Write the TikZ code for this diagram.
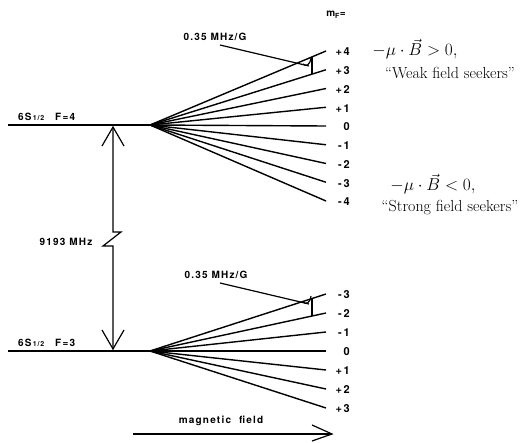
\documentclass[tikz,border=0pt]{standalone}
\usepackage{fontspec}
\newfontfamily\lab[LetterSpace=12]{TeX Gyre Heros}
\newfontfamily\mlabfont[LetterSpace=14]{TeX Gyre Heros}
\usetikzlibrary{calc}
\begin{document}
\begin{tikzpicture}[x=1pt,y=-1pt,
  level/.style={line width=1.5pt},
  fanline/.style={line width=1.4pt},
  vline/.style={line width=1.2pt},
  leader/.style={line width=1.2pt},
  mlab/.style={font=\mlabfont\bfseries\fontsize{11}{12}\selectfont, anchor=east, inner sep=0pt},
  slab/.style={font=\lab\bfseries\fontsize{10}{11}\selectfont, inner sep=0pt},
  rtext/.style={font=\fontsize{16}{18}\selectfont, inner sep=0pt}]
\useasboundingbox (0,0) rectangle (525,442);
% ---------- upper level F=4
\coordinate (L1) at (8,125);
\coordinate (O1) at (150,125);
\draw[level] (L1) -- (O1);
\foreach \i/\t in {0/+4,1/+3,2/+2,3/+1,4/0,5/{-\,1},6/{-\,2},7/{-\,3},8/{-\,4}} {
  \coordinate (ue\i) at (326,{51+18.75*\i});
  \node[mlab] (ul\i) at (350,{52+18.75*\i}) {\t};
  \draw[fanline] (O1) -- (ue\i);
}
\node[font=\lab\bfseries\fontsize{10}{10}\selectfont, inner sep=0pt] (mF) at (336,15) {m\textsubscript{F}=};
\node[slab, anchor=west] (s1) at (18,117) {6S{\fontsize{7}{7}\selectfont\,1/2}\hspace{1.1em}F=4};
\node[slab] (g1) at (215,37) {0.35 MHz/G};
\coordinate (l1s) at (220,45);
\coordinate (l1e) at (309,66);
\draw[leader] (l1s) -- (l1e);
\draw[vline] ($(O1)!0.92!(ue0)$) -- ($(O1)!0.92!(ue1)$);
\draw[vline] (303,64) .. controls (306,67) and (310,65) .. (311,58);
% ---------- lower level F=3
\coordinate (L2) at (8,351);
\coordinate (O2) at (150,351);
\draw[level] (L2) -- (O2);
\foreach \i/\t in {0/{-\,3},1/{-\,2},2/{-\,1},3/0,4/+1,5/+2,6/+3} {
  \coordinate (le\i) at (326,{294+19*\i});
  \node[mlab] (ll\i) at (350,{295+19*\i}) {\t};
  \draw[fanline] (O2) -- (le\i);
}
\node[slab, anchor=west] (s2) at (18,343) {6S{\fontsize{7}{7}\selectfont\,1/2}\hspace{1.1em}F=3};
\node[slab] (g2) at (216,275) {0.35 MHz/G};
\coordinate (l2s) at (220,283);
\coordinate (l2e) at (309,304);
\draw[leader] (l2s) -- (l2e);
\draw[vline] ($(O2)!0.92!(le0)$) -- ($(O2)!0.92!(le1)$);
\draw[vline] (303,302) .. controls (306,305) and (310,303) .. (311,296);
% ---------- hyperfine splitting arrow
\coordinate (atop) at (113,127);
\coordinate (abot) at (113,349);
\draw[vline] (atop) -- (113,232) -- (121,232) -- (103,246) -- (113,246) -- (abot);
\draw[vline] ($(atop)+(-11,19)$) -- (atop) -- ($(atop)+(11,19)$);
\draw[vline] ($(abot)+(-11,-19)$) -- (abot) -- ($(abot)+(11,-19)$);
\node[slab] (hf) at (66,242) {9193 MHz};
% ---------- magnetic field arrow
\coordinate (mf1) at (133,434);
\coordinate (mf2) at (332,434);
\draw[vline] (mf1) -- (mf2);
\draw[vline] (312,425) -- (mf2) -- (312,441);
\node[slab] (mf) at (221,421) {magnetic\ \ field};
% ---------- right-hand text
\node[rtext] (c1) at (415,49) {$-\mu\cdot\vec{B}>0,$};
\node[rtext] (w) at (450,73) {``Weak field seekers''};
\node[rtext] (c2) at (433,184) {$-\mu\cdot\vec{B}<0,$};
\node[rtext] (s) at (450,208) {``Strong field seekers''};
\end{tikzpicture}
\end{document}
